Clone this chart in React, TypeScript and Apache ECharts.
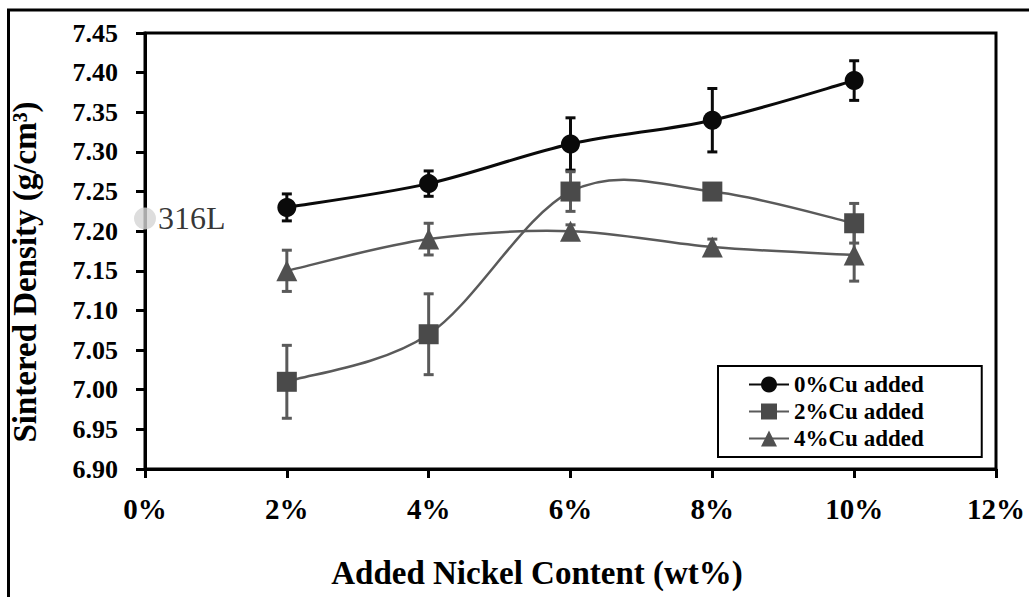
import React, { useEffect, useRef } from "react";
import * as echarts from "echarts";

const nickel = [2, 4, 6, 8, 10];
const seriesNames = ["0%Cu added", "2%Cu added", "4%Cu added"];
const cu0 = [7.23, 7.26, 7.31, 7.34, 7.39];
const cu0Err = [0.017, 0.016, 0.033, 0.04, 0.025];
const cu2 = [7.01, 7.07, 7.25, 7.25, 7.21];
const cu2Err = [0.046, 0.051, 0.025, 0.004, 0.025];
const cu4 = [7.15, 7.19, 7.2, 7.18, 7.17];
const cu4Err = [0.026, 0.02, 0.008, 0.01, 0.033];
const ref316L = [0, 7.216];
const refLabel = "316L";
const xTicks = [0, 2, 4, 6, 8, 10, 12];
const yMin = 6.9;
const yMax = 7.45;

const SERIF = "'Liberation Serif', 'Times New Roman', serif";

export default function App() {
  const ref = useRef<HTMLDivElement>(null);
  useEffect(() => {
    if (!ref.current) return;
    const chart = echarts.init(ref.current, undefined, { renderer: "svg" });
    const colors = ["#0a0a0a", "#4a4a4a", "#505050"];
    const lineColors = ["#0a0a0a", "#5a5a5a", "#5a5a5a"];
    const symbols = ["circle", "rect", "triangle"];
    const sizes = [19, 20, 21];
    const vals = [cu0, cu2, cu4];
    const errs = [cu0Err, cu2Err, cu4Err];

    // Excel-style smoothed curve (Catmull-Rom as cubic Bezier), drawn through the axis scales
    const curveSeries = vals.map((v, k) => ({
      name: seriesNames[k] + " curve",
      type: "custom",
      data: nickel.map((x, i) => [x, v[i]]),
      encode: { x: 0, y: 1 },
      z: 2,
      renderItem: (params: any, api: any) => {
        if (params.dataIndex !== 0) return null;
        const pts = nickel.map((x, i) => [x, v[i]]);
        const n = pts.length;
        const P = (i: number) => pts[Math.max(0, Math.min(n - 1, i))];
        const c0 = api.coord(pts[0]);
        let d = `M${c0[0]},${c0[1]}`;
        for (let i = 0; i < n - 1; i++) {
          const p0 = P(i - 1), p1 = P(i), p2 = P(i + 1), p3 = P(i + 2);
          const cp1 = [p1[0] + (p2[0] - p0[0]) / 6, p1[1] + (p2[1] - p0[1]) / 6];
          const cp2 = [p2[0] - (p3[0] - p1[0]) / 6, p2[1] - (p3[1] - p1[1]) / 6];
          const a = api.coord(cp1);
          const b = api.coord(cp2);
          const e = api.coord(p2);
          d += ` C${a[0]},${a[1]} ${b[0]},${b[1]} ${e[0]},${e[1]}`;
        }
        return {
          type: "path",
          shape: { pathData: d },
          style: { stroke: lineColors[k], lineWidth: k === 0 ? 3 : 2.5, fill: "none" },
        };
      },
    }));

    const lineSeries = vals.map((v, k) => ({
      name: seriesNames[k],
      type: "line",
      data: nickel.map((x, i) => [x, v[i]]),
      symbol: symbols[k],
      symbolSize: sizes[k],
      lineStyle: { color: lineColors[k], width: k === 0 ? 3 : 2.5, opacity: 0 },
      itemStyle: { color: colors[k] },
      z: 4,
    }));

    const errSeries = vals.map((v, k) => ({
      name: seriesNames[k] + " err",
      type: "custom",
      data: nickel.map((x, i) => [x, v[i], errs[k][i]]),
      encode: { x: 0, y: 1 },
      z: 3,
      renderItem: (params: any, api: any) => {
        const x = api.value(0);
        const y = api.value(1);
        const e = api.value(2);
        const top = api.coord([x, y + e]);
        const bot = api.coord([x, y - e]);
        const hw = 5;
        const st = { stroke: lineColors[k], lineWidth: 3 };
        return {
          type: "group",
          children: [
            { type: "line", shape: { x1: top[0], y1: top[1], x2: bot[0], y2: bot[1] }, style: st },
            { type: "line", shape: { x1: top[0] - hw, y1: top[1], x2: top[0] + hw, y2: top[1] }, style: st },
            { type: "line", shape: { x1: bot[0] - hw, y1: bot[1], x2: bot[0] + hw, y2: bot[1] }, style: st },
          ],
        };
      },
    }));

    chart.setOption({
      animation: false,
      backgroundColor: "#fff",
      grid: {
        left: 145,
        right: 33,
        top: 33,
        bottom: 128,
        show: true,
        borderColor: "#000",
        borderWidth: 3,
      },
      xAxis: {
        type: "value",
        min: xTicks[0],
        max: xTicks[xTicks.length - 1],
        interval: 2,
        axisLine: { lineStyle: { color: "#000", width: 3 } },
        axisTick: { show: true, length: 9, lineStyle: { color: "#000", width: 3 } },
        axisLabel: {
          margin: 25,
          color: "#000",
          fontFamily: SERIF,
          fontWeight: "bold",
          fontSize: 29,
          formatter: (v: number) => v + "%",
        },
        splitLine: { show: false },
      },
      yAxis: {
        type: "value",
        min: yMin,
        max: yMax,
        interval: 0.05,
        axisLine: { show: true, lineStyle: { color: "#000", width: 3 } },
        axisTick: { show: true, length: 9, lineStyle: { color: "#000", width: 3 } },
        axisLabel: {
          margin: 27,
          color: "#000",
          fontFamily: SERIF,
          fontWeight: "bold",
          fontSize: 26,
          formatter: (v: number) => v.toFixed(2),
        },
        splitLine: { show: false },
      },
      legend: {
        data: seriesNames,
        orient: "vertical",
        left: 718,
        top: 366,
        itemWidth: 40,
        itemHeight: 20,
        itemGap: 4,
        padding: [7, 58, 7, 30],
        borderColor: "#000",
        borderWidth: 2,
        backgroundColor: "#fff",
        selectedMode: false,
        lineStyle: { opacity: 1 },
        textStyle: {
          fontFamily: SERIF,
          fontWeight: "bold",
          fontSize: 23,
          color: "#000",
        },
      },
      graphic: [
        {
          type: "rect",
          shape: { x: 8.5, y: 10, width: 1100, height: 700 },
          style: { fill: "none", stroke: "#000", lineWidth: 3 },
          silent: true,
          z: -10,
        },
        {
          type: "text",
          x: 537,
          y: 573,
          style: {
            text: "Added Nickel Content (wt%)",
            font: `bold 33px ${SERIF}`,
            fill: "#000",
            textAlign: "center",
            textVerticalAlign: "middle",
          },
        },
        {
          type: "text",
          x: 25,
          y: 272,
          rotation: Math.PI / 2,
          style: {
            text: "Sintered Density (g/cm³)",
            font: `bold 33px ${SERIF}`,
            fill: "#000",
            textAlign: "center",
            textVerticalAlign: "middle",
          },
        },
      ],
      series: [
        ...curveSeries,
        ...errSeries,
        ...lineSeries,
        {
          name: refLabel,
          type: "scatter",
          data: [ref316L],
          symbol: "circle",
          symbolSize: 22,
          clip: false,
          itemStyle: { color: "#d4d4d4" },
          label: {
            show: true,
            position: "right",
            distance: 2,
            formatter: refLabel,
            fontFamily: SERIF,
            fontSize: 32,
            color: "#000",
          },
          z: 5,
        },
      ],
    });
    return () => chart.dispose();
  }, []);
  return (
    <div
      ref={ref}
      style={{ position: "fixed", left: 0, top: 0, width: 1029, height: 597, background: "#fff" }}
    />
  );
}
